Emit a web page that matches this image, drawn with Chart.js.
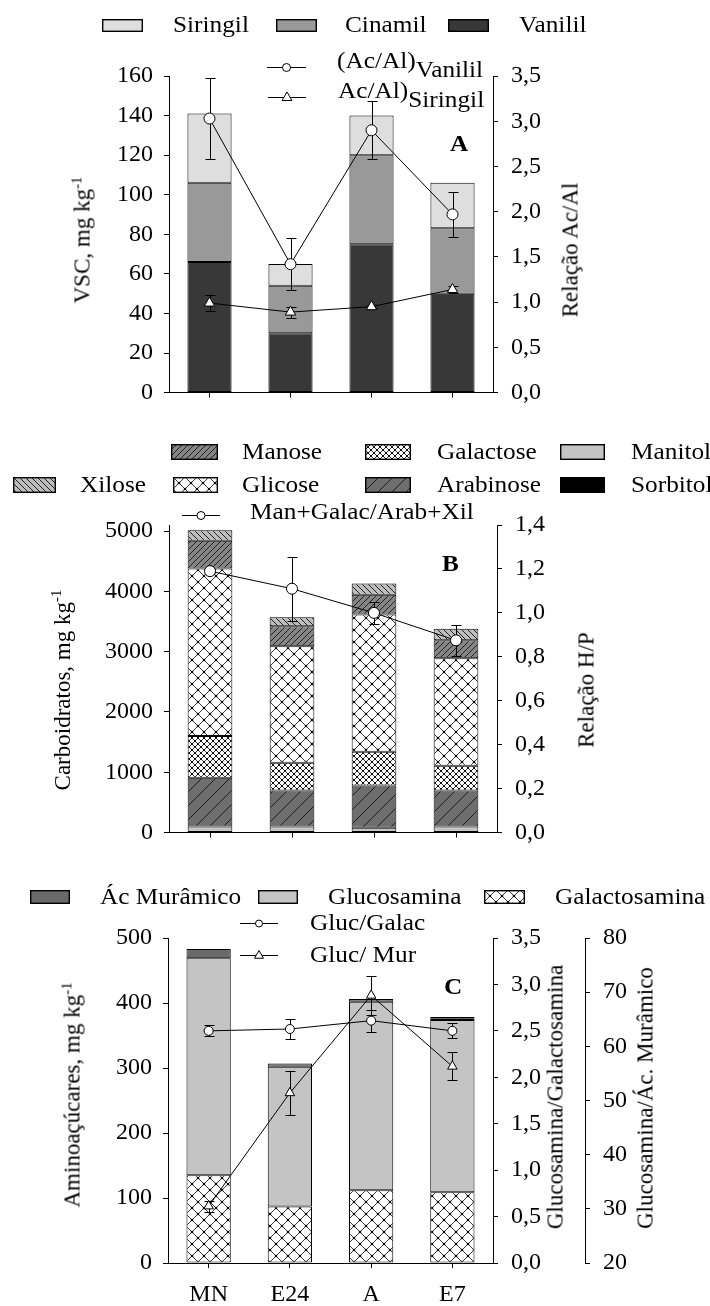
<!DOCTYPE html>
<html>
<head>
<meta charset="utf-8">
<script src="https://cdn.jsdelivr.net/npm/chart.js@4.4.1/dist/chart.umd.min.js"></script>
<style>
  body { margin:0; background:#fff; }
  #wrap { position:relative; width:710px; height:1306px; overflow:hidden; background:#fff; }
  canvas { position:absolute; left:0; }
  .t { position:absolute; white-space:nowrap; font-family:"Liberation Serif","Times New Roman",serif; color:#000; z-index:5; }
</style>
</head>
<body>
<div id="wrap">
  <canvas id="cA" width="710" height="420" style="top:0px"></canvas>
  <canvas id="cB" width="710" height="440" style="top:420px"></canvas>
  <canvas id="cC" width="710" height="446" style="top:860px"></canvas>
</div>
<script>
// ---------------- DATA ----------------
const categories = ['MN', 'E24', 'A', 'E7'];

// Panel A (mg kg-1)
const vanilil  = [66, 30, 75, 50];
const cinamil  = [40, 24, 45, 33];
const siringil = [35, 11, 20, 23];
const acAlVanilil     = [3.03, 1.42, 2.90, 1.97];
const acAlVanililErr  = [0.45, 0.29, 0.32, 0.25];
const acAlSiringil    = [0.99, 0.89, 0.95, 1.14];
const acAlSiringilErr = [0.09, 0.06, 0.02, 0.04];
const ticksA_left  = [0, 20, 40, 60, 80, 100, 120, 140, 160];
const ticksA_right = [0, 0.5, 1.0, 1.5, 2.0, 2.5, 3.0, 3.5];

// Panel B (mg kg-1)
const manitol   = [100, 100, 80, 100];
const sorbitol  = [0, 0, 0, 0];
const arabinose = [810, 600, 700, 600];
const galactose = [690, 460, 560, 410];
const glicose   = [2780, 1930, 2275, 1780];
const manose    = [460, 330, 330, 300];
const xilose    = [175, 150, 185, 190];
const ratioHP    = [1.19, 1.11, 1.00, 0.875];
const ratioHPErr = [0.01, 0.145, 0.05, 0.07];
const ticksB_left  = [0, 1000, 2000, 3000, 4000, 5000];
const ticksB_right = [0, 0.2, 0.4, 0.6, 0.8, 1.0, 1.2, 1.4];

// Panel C (mg kg-1)
const galactosamina = [135, 87, 112, 109];
const glucosamina   = [334, 215, 290, 265];
const acMuramico    = [14, 5, 4, 4.5];
const glucGalac     = [2.50, 2.52, 2.61, 2.50];
const glucGalacErr  = [0.06, 0.11, 0.12, 0.08];
const glucMur       = [30.5, 51.4, 69.4, 56.3];
const glucMurErr    = [1.0, 4.0, 3.6, 2.6];
const ticksC_left   = [0, 100, 200, 300, 400, 500];
const ticksC_right1 = [0, 0.5, 1.0, 1.5, 2.0, 2.5, 3.0, 3.5];
const ticksC_right2 = [20, 30, 40, 50, 60, 70, 80];

// ---------------- STYLE HELPERS ----------------
const FONT = '"Liberation Serif","Times New Roman",serif';
Chart.defaults.font.family = FONT;
Chart.defaults.color = '#000';

function makePattern(kind) {
  const c = document.createElement('canvas');
  let s = 12;
  if (kind === 'fwd' || kind === 'back') s = 6;
  if (kind === 'fwdSparse') s = 14;
  if (kind === 'crossDense') s = 6;
  c.width = s; c.height = s;
  const g = c.getContext('2d');
  const bg = { fwd:'#858585', fwdSparse:'#6e6e6e', back:'#bdbdbd', cross:'#ffffff', crossDense:'#ffffff' }[kind];
  g.fillStyle = bg; g.fillRect(0, 0, s, s);
  g.strokeStyle = (kind === 'fwdSparse') ? '#1a1a1a' : '#222';
  g.lineWidth = (kind === 'cross' || kind === 'crossDense') ? 0.9 : 1;
  const fwd = () => { for (let k = -1; k <= 1; k++) { g.beginPath(); g.moveTo(k*s, s); g.lineTo(k*s + s, 0); g.stroke(); } };
  const back = () => { for (let k = -1; k <= 1; k++) { g.beginPath(); g.moveTo(k*s, 0); g.lineTo(k*s + s, s); g.stroke(); } };
  if (kind === 'fwd' || kind === 'fwdSparse') fwd();
  if (kind === 'back') back();
  if (kind === 'cross' || kind === 'crossDense') {
    fwd(); back();
    g.fillStyle = '#000';
    const r = kind === 'cross' ? 1.3 : 1.0;
    [[s/2, s/2], [0,0], [s,0], [0,s], [s,s]].forEach(p => { g.beginPath(); g.arc(p[0], p[1], r, 0, Math.PI*2); g.fill(); });
  }
  return g.createPattern(c, 'repeat');
}

const fills = {
  siringil: '#dedede', cinamil: '#999999', vanilil: '#383838',
  manitol: '#c4c4c4', sorbitol: '#000000',
  arabinose: makePattern('fwdSparse'), galactose: makePattern('crossDense'),
  glicose: makePattern('cross'), manose: makePattern('fwd'), xilose: makePattern('back'),
  galactosamina: makePattern('cross'), glucosamina: '#c4c4c4', acMuramico: '#6a6a6a'
};

function yScale(pos, min, max, ticksArr, fmt, width, weight, stacked) {
  return {
    position: pos, min: min, max: max, weight: weight || 0, stacked: !!stacked,
    afterBuildTicks: s => { s.ticks = ticksArr.map(v => ({ value: v })); },
    afterFit: s => { s.width = width; },
    border: { display: true, color: '#000', width: 1 },
    grid: { display: true, drawOnChartArea: false, drawTicks: true, tickLength: 5, color: '#000', lineWidth: 1 },
    ticks: { color: '#000', font: { size: 24, family: FONT }, padding: pos === 'left' ? 11 : 13, callback: fmt }
  };
}
function xScale(height, showLabels) {
  return {
    stacked: true,
    afterFit: s => { s.height = height; },
    border: { display: true, color: '#000', width: 1 },
    grid: { display: true, offset: false, drawOnChartArea: false, drawTicks: true, tickLength: 5, color: '#000', lineWidth: 1 },
    ticks: { display: showLabels, color: '#000', font: { size: 24, family: FONT }, padding: 12, maxRotation: 0 }
  };
}
const intFmt = v => String(v);
const decFmt = v => v.toFixed(1).replace('.', ',');

function barDs(label, data, fill) {
  return { type: 'bar', label: label, data: data, backgroundColor: fill, borderColor: '#000', borderWidth: 1, borderSkipped: false, order: 1, yAxisID: 'y' };
}
function lineDs(label, data, errs, axis, style, radius) {
  return { type: 'line', label: label, data: data, errors: errs, yAxisID: axis, order: 0,
    borderColor: '#000', borderWidth: 1, tension: 0, fill: false,
    pointStyle: style, pointRadius: radius, pointHoverRadius: radius,
    pointBackgroundColor: '#fff', pointBorderColor: '#000', pointBorderWidth: 1 };
}

const errPlugin = {
  id: 'errbars',
  beforeDatasetDraw(chart, args) {
    const ds = chart.data.datasets[args.index];
    if (!ds.errors) return;
    const ys = chart.scales[ds.yAxisID];
    const g = chart.ctx;
    g.save(); g.strokeStyle = '#000'; g.lineWidth = 1;
    args.meta.data.forEach((pt, i) => {
      const e = ds.errors[i]; if (!e) return;
      const x = Math.round(pt.x) + 0.5;
      const yt = Math.round(ys.getPixelForValue(ds.data[i] + e)) + 0.5;
      const yb = Math.round(ys.getPixelForValue(ds.data[i] - e)) + 0.5;
      g.beginPath();
      g.moveTo(x, yt); g.lineTo(x, yb);
      g.moveTo(x - 5, yt); g.lineTo(x + 5, yt);
      g.moveTo(x - 5, yb); g.lineTo(x + 5, yb);
      g.stroke();
    });
    g.restore();
  }
};

function baseOptions(padTop) {
  return {
    responsive: false, animation: false, events: [],
    layout: { padding: { top: padTop, left: 0, right: 0, bottom: 0 } },
    plugins: { legend: { display: false }, tooltip: { enabled: false } },
    datasets: { bar: { barPercentage: 0.545, categoryPercentage: 1 } }
  };
}

// ---------------- PANEL A ----------------
const optA = baseOptions(76);
optA.scales = {
  x: xScale(18, false),
  y: yScale('left', 0, 160, ticksA_left, intFmt, 169, 0, true),
  y1: yScale('right', 0, 3.5, ticksA_right, decFmt, 217, 0, false)
};
new Chart(document.getElementById('cA'), {
  type: 'bar',
  data: { labels: categories, datasets: [
    barDs('Vanilil', vanilil, fills.vanilil),
    barDs('Cinamil', cinamil, fills.cinamil),
    barDs('Siringil', siringil, fills.siringil),
    lineDs('(Ac/Al)Vanilil', acAlVanilil, acAlVanililErr, 'y1', 'circle', 5.5),
    lineDs('Ac/Al)Siringil', acAlSiringil, acAlSiringilErr, 'y1', 'triangle', 6)
  ]},
  options: optA, plugins: [errPlugin]
});

// ---------------- PANEL B ----------------
const optB = baseOptions(105);
optB.scales = {
  x: xScale(10, false),
  y: yScale('left', 0, 5100, ticksB_left, intFmt, 169, 0, true),
  y1: yScale('right', 0, 1.4, ticksB_right, decFmt, 213, 0, false)
};
new Chart(document.getElementById('cB'), {
  type: 'bar',
  data: { labels: categories, datasets: [
    barDs('Manitol', manitol, fills.manitol),
    barDs('Sorbitol', sorbitol, fills.sorbitol),
    barDs('Arabinose', arabinose, fills.arabinose),
    barDs('Galactose', galactose, fills.galactose),
    barDs('Glicose', glicose, fills.glicose),
    barDs('Manose', manose, fills.manose),
    barDs('Xilose', xilose, fills.xilose),
    lineDs('Man+Galac/Arab+Xil', ratioHP, ratioHPErr, 'y1', 'circle', 5.5)
  ]},
  options: optB, plugins: [errPlugin]
});

// ---------------- PANEL C ----------------
const optC = baseOptions(78);
optC.scales = {
  x: xScale(43, true),
  y: yScale('left', 0, 500, ticksC_left, intFmt, 168, 0, true),
  y1: yScale('right', 0, 3.5, ticksC_right1, decFmt, 92, 1, false),
  y2: yScale('right', 20, 80, ticksC_right2, intFmt, 125, 2, false)
};
new Chart(document.getElementById('cC'), {
  type: 'bar',
  data: { labels: categories, datasets: [
    barDs('Galactosamina', galactosamina, fills.galactosamina),
    barDs('Glucosamina', glucosamina, fills.glucosamina),
    barDs('Ác Murâmico', acMuramico, fills.acMuramico),
    lineDs('Gluc/Galac', glucGalac, glucGalacErr, 'y1', 'circle', 4.5),
    lineDs('Gluc/ Mur', glucMur, glucMurErr, 'y2', 'triangle', 5.5)
  ]},
  options: optC, plugins: [errPlugin]
});

// ---------------- TEXT / LEGENDS (HTML overlay) ----------------
const wrap = document.getElementById('wrap');
function txt(x, yc, html, size, bold, stretch) {
  const d = document.createElement('div');
  d.className = 't';
  d.innerHTML = html;
  const sz = size || 23;
  d.style.left = x + 'px';
  d.style.top = (yc - 15) + 'px';
  d.style.height = '30px';
  d.style.lineHeight = '30px';
  d.style.fontSize = sz + 'px';
  if (bold) d.style.fontWeight = 'bold';
  d.style.transformOrigin = 'left center';
  d.style.transform = 'scaleX(' + (stretch || 1.1) + ')';
  wrap.appendChild(d);
}
function vtxt(cx, cy, html, size) {
  const d = document.createElement('div');
  d.className = 't';
  d.innerHTML = html;
  d.style.left = cx + 'px';
  d.style.top = cy + 'px';
  d.style.fontSize = (size || 23) + 'px';
  d.style.lineHeight = '1';
  d.style.transform = 'translate(-50%,-50%) rotate(-90deg)';
  wrap.appendChild(d);
}
function swatch(x, y, w, h, fill) {
  const c = document.createElement('canvas');
  c.width = w; c.height = h;
  c.style.position = 'absolute'; c.style.left = x + 'px'; c.style.top = y + 'px'; c.style.zIndex = 5;
  const g = c.getContext('2d');
  g.fillStyle = fill; g.fillRect(0, 0, w, h);
  g.strokeStyle = '#000'; g.lineWidth = 1.4; g.strokeRect(0.7, 0.7, w - 1.4, h - 1.4);
  wrap.appendChild(c);
}
function legLine(x1, x2, y, style, r) {
  const w = x2 - x1, h = 20;
  const c = document.createElement('canvas');
  c.width = w; c.height = h;
  c.style.position = 'absolute'; c.style.left = x1 + 'px'; c.style.top = (y - 10) + 'px'; c.style.zIndex = 5;
  const g = c.getContext('2d');
  g.strokeStyle = '#000'; g.lineWidth = 1;
  g.beginPath(); g.moveTo(0, 10.5); g.lineTo(w, 10.5); g.stroke();
  g.fillStyle = '#fff';
  const cx = w / 2;
  g.beginPath();
  if (style === 'circle') { g.arc(cx, 10.5, r, 0, Math.PI * 2); }
  else { g.moveTo(cx, 10.5 - r); g.lineTo(cx + r * 0.9, 10.5 + r * 0.55); g.lineTo(cx - r * 0.9, 10.5 + r * 0.55); g.closePath(); }
  g.fill(); g.stroke();
  wrap.appendChild(c);
}
const sub = s => '<span style="position:relative;top:9px">' + s + '</span>';
const sup = '<sup style="font-size:0.65em;vertical-align:0.55em;line-height:0">-1</sup>';

// Panel A legend
swatch(102, 19, 41, 13, fills.siringil); txt(173, 25, 'Siringil');
swatch(276, 19, 41, 13, fills.cinamil);  txt(345, 25, 'Cinamil');
swatch(448, 19, 41, 13, fills.vanilil);  txt(519, 25, 'Vanilil');
legLine(267, 306, 67, 'circle', 4);  txt(337, 61, '(Ac/Al)' + sub('Vanilil'));
legLine(268, 306, 97, 'triangle', 5.5); txt(338, 91, 'Ac/Al)' + sub('Siringil'));
txt(450, 143, 'A', 24, true, 1.05);
vtxt(82, 240, 'VSC, mg kg' + sup);
vtxt(570, 250, 'Relação Ac/Al');

// Panel B legend
swatch(171, 444, 47, 16, fills.manose);    txt(242, 452, 'Manose');
swatch(365, 444, 46, 16, fills.galactose); txt(437, 452, 'Galactose');
swatch(560, 444, 45, 16, fills.manitol);   txt(631, 452, 'Manitol');
swatch(13, 477, 43, 16, fills.xilose);     txt(80, 485, 'Xilose');
swatch(173, 477, 45, 16, fills.glicose);   txt(242, 485, 'Glicose');
swatch(365, 477, 46, 16, fills.arabinose); txt(437, 485, 'Arabinose');
swatch(560, 477, 45, 16, fills.sorbitol);  txt(631, 485, 'Sorbitol');
legLine(182, 220, 515, 'circle', 4); txt(250, 512, 'Man+Galac/Arab+Xil');
txt(442, 563, 'B', 24, true, 1.05);
vtxt(62, 690, 'Carboidratos, mg kg' + sup);
vtxt(586, 690, 'Relação H/P');

// Panel C legend
swatch(30, 890, 40, 14, fills.acMuramico);     txt(100, 897, 'Ác Murâmico');
swatch(258, 890, 40, 14, fills.glucosamina);   txt(328, 897, 'Glucosamina');
swatch(484, 890, 41, 14, fills.galactosamina); txt(555, 897, 'Galactosamina');
legLine(240, 278, 923, 'circle', 3.5);  txt(310, 923, 'Gluc/Galac');
legLine(240, 278, 955, 'triangle', 5);  txt(310, 955, 'Gluc/ Mur');
txt(444, 986, 'C', 24, true, 1.05);
vtxt(72, 1095, 'Aminoaçúcares, mg kg' + sup);
vtxt(555, 1097, 'Glucosamina/Galactosamina');
vtxt(645, 1098, 'Glucosamina/Ác. Murâmico');
</script>
</body>
</html>
